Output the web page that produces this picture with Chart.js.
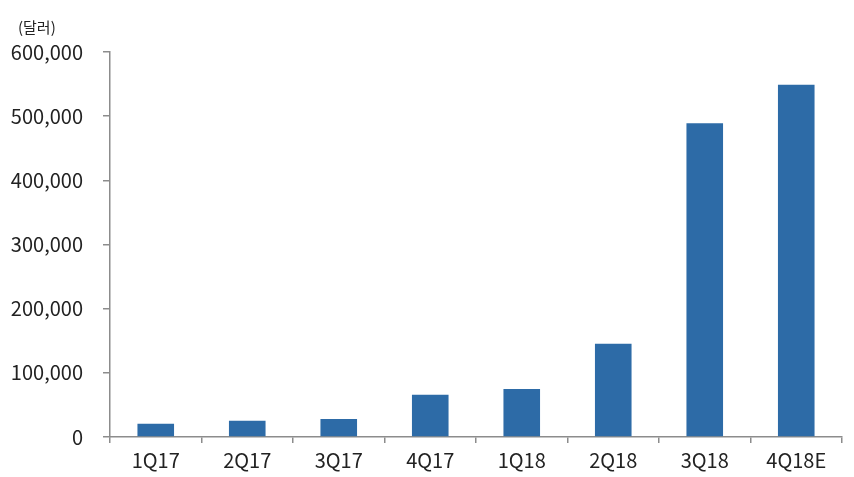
<!DOCTYPE html>
<html><head><meta charset="utf-8">
<script src="https://cdn.jsdelivr.net/npm/chart.js@4.4.1/dist/chart.umd.min.js"></script>
<style>html,body{margin:0;padding:0;background:#fff}#wrap{width:854px;height:477px}</style>
</head><body><div id="wrap"><canvas id="c" width="854" height="477"></canvas></div>
<script>
const categories = ['1Q17','2Q17','3Q17','4Q17','1Q18','2Q18','3Q18','4Q18E'];
const values = [20500, 25300, 28000, 65800, 74700, 145200, 489000, 549000];
const yTicks = [0, 100000, 200000, 300000, 400000, 500000, 600000];
const unitLabel = '(달러)';

const FONT = "'Noto Sans CJK KR', sans-serif";
const unitPlugin = {
  id: 'unit',
  afterDraw(chart) {
    const ctx = chart.ctx;
    ctx.save();
    ctx.font = "15px " + FONT;
    ctx.fillStyle = '#222';
    ctx.textBaseline = 'middle';
    ctx.textAlign = 'left';
    ctx.fillText(unitLabel, 18, 27);
    ctx.restore();
  }
};

new Chart(document.getElementById('c'), {
  type: 'bar',
  data: { labels: categories, datasets: [{ data: values, backgroundColor: '#2D6BA7', borderWidth: 0,
    categoryPercentage: 0.8, barPercentage: 0.5 }] },
  options: {
    responsive: false, animation: false,
    layout: { padding: { top: 52, right: 12, left: 0, bottom: 0 } },
    plugins: { legend: { display: false }, tooltip: { enabled: false } },
    scales: {
      x: {
        border: { display: true, color: '#8c8c8c', width: 1.5 },
        grid: { display: true, drawOnChartArea: false, drawTicks: true, tickLength: 6, color: '#8c8c8c', lineWidth: 1.5, offset: true },
        ticks: { color: '#222', font: { family: FONT, size: 20 }, padding: 5 },
        afterFit(s) { s.height = 40; }
      },
      y: {
        min: 0, max: 600000,
        afterBuildTicks(s) { s.ticks = yTicks.map(v => ({ value: v })); },
        border: { display: true, color: '#8c8c8c', width: 1.5 },
        grid: { display: true, drawOnChartArea: false, drawTicks: true, tickLength: 7, color: '#8c8c8c', lineWidth: 1.5 },
        ticks: { color: '#222', font: { family: FONT, size: 20 }, padding: 20,
          callback: v => v.toLocaleString('en-US') },
        afterFit(s) { s.width = 110; }
      }
    }
  },
  plugins: [unitPlugin]
});
</script></body></html>
